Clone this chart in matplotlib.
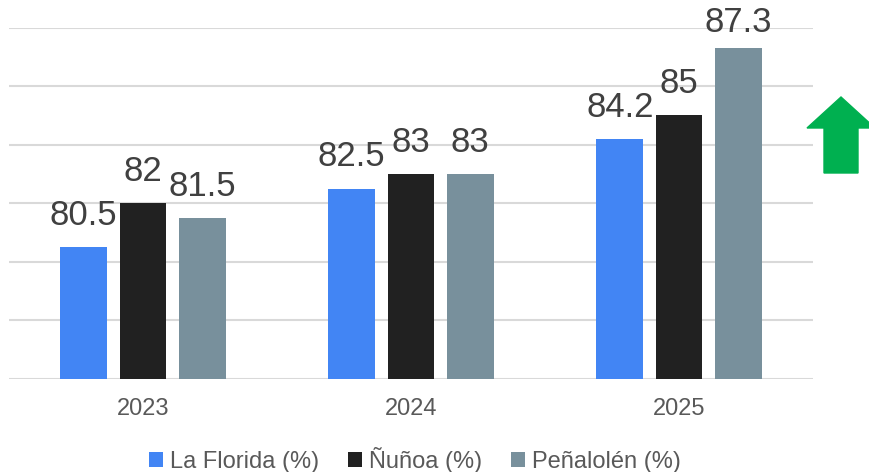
import numpy as np
import matplotlib.pyplot as plt
from matplotlib.patches import Patch, FancyArrow

plt.rcParams["font.family"] = ["Liberation Sans", "DejaVu Sans"]

# ── data ────────────────────────────────────────────────────────────────────
years = ["2023", "2024", "2025"]
series = ["La Florida (%)", "Ñuñoa (%)", "Peñalolén (%)"]
la_florida = [80.5, 82.5, 84.2]
nunoa = [82, 83, 85]
penalolen = [81.5, 83, 87.3]
colors = ["#4285F4", "#212121", "#78909C"]

# ── plot ────────────────────────────────────────────────────────────────────
W, H = 870, 472
fig = plt.figure(figsize=(W / 100, H / 100), dpi=100)
ax = fig.add_axes([9 / W, 1 - 379 / H, (813 - 9) / W, (379 - 27.5) / H])

x = np.arange(len(years))
width = 0.175
pitch = 0.221
for i, (vals, col) in enumerate(zip([la_florida, nunoa, penalolen], colors)):
    pos = x + (i - 1) * pitch
    ax.bar(pos, vals, width=width, bottom=0, color=col, zorder=3)
    for p, v in zip(pos, vals):
        # labels near the top edge get pushed down a bit, like the original
        off = min(0.52, 87.6 - v)
        ax.text(p, v + off, f"{v:g}", ha="center", va="bottom",
                fontsize=25, color="#404040", zorder=4)

ax.set_xlim(-0.5, 2.5)
ax.set_ylim(76, 88)
ax.set_yticks(np.arange(76, 89, 2))
ax.yaxis.grid(True, color="#D9D9D9", linewidth=1.5, zorder=0)
ax.tick_params(axis="y", left=False, labelleft=False)
ax.tick_params(axis="x", length=0, labelsize=17, labelcolor="#595959", pad=14)
ax.set_xticks(x)
ax.set_xticklabels(years)
for s in ax.spines.values():
    s.set_visible(False)

# green trend arrow on the right
arrow = FancyArrow(841 / W, 1 - 173 / H, 0, (173 - 97) / H,
                   width=34 / W, head_width=68 / W, head_length=31 / H,
                   length_includes_head=True, color="#00B050",
                   transform=fig.transFigure, figure=fig)
fig.patches.append(arrow)

handles = [Patch(facecolor=c, edgecolor="none") for c in colors]
fig.legend(handles, series, loc="center", bbox_to_anchor=(415 / W, 1 - 460 / H),
           ncol=3, frameon=False, fontsize=17, labelcolor="#595959",
           handlelength=0.6, handleheight=0.6, handletextpad=0.3,
           columnspacing=1.2)

fig.savefig("out.png", dpi=100)
